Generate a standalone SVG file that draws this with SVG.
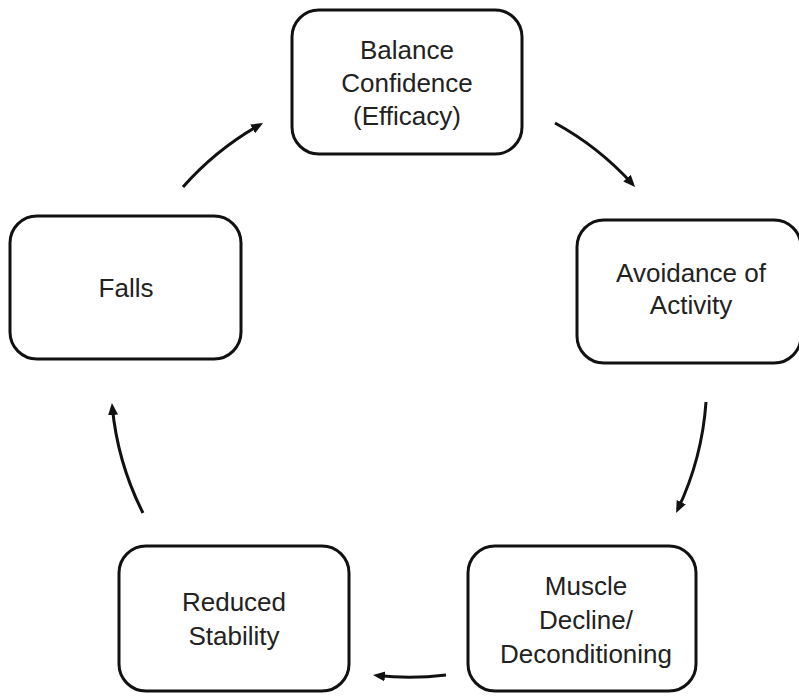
<svg xmlns="http://www.w3.org/2000/svg" width="799" height="698" viewBox="0 0 799 698">
  <style>
    .box { fill: #ffffff; stroke: #111111; stroke-width: 3; }
    .lbl { font-family: "Liberation Sans", Arial, sans-serif; font-size: 26px; fill: #222222; text-anchor: middle; }
    .arc { fill: none; stroke: #111111; stroke-width: 3; }
  </style>
  <defs>
    <marker id="ah" markerUnits="userSpaceOnUse" markerWidth="13" markerHeight="11" refX="8" refY="5" orient="auto">
      <path d="M0,0 L12,5 L0,10 z" fill="#111111"/>
    </marker>
  </defs>
  <rect width="799" height="698" fill="#ffffff"/>

  <g id="node-balance">
    <rect class="box" x="292" y="10" width="230" height="144" rx="27"/>
    <text class="lbl" x="407" y="59">Balance</text>
    <text class="lbl" x="407" y="92">Confidence</text>
    <text class="lbl" x="407" y="125">(Efficacy)</text>
  </g>
  <g id="node-avoidance">
    <rect class="box" x="577" y="220" width="224" height="143" rx="27"/>
    <text class="lbl" x="691" y="282">Avoidance of</text>
    <text class="lbl" x="691" y="314">Activity</text>
  </g>
  <g id="node-muscle">
    <rect class="box" x="468" y="546" width="228" height="145" rx="27"/>
    <text class="lbl" x="586" y="595">Muscle</text>
    <text class="lbl" x="586" y="629">Decline/</text>
    <text class="lbl" x="586" y="663">Deconditioning</text>
  </g>
  <g id="node-reduced">
    <rect class="box" x="119" y="546" width="230" height="145" rx="27"/>
    <text class="lbl" x="234" y="611">Reduced</text>
    <text class="lbl" x="234" y="645">Stability</text>
  </g>
  <g id="node-falls">
    <rect class="box" x="10" y="216" width="231" height="143" rx="27"/>
    <text class="lbl" x="126" y="297">Falls</text>
  </g>

  <g id="connectors">
    <path class="arc" marker-end="url(#ah)" d="M183,187 A297,297 0 0 1 259.6,125"/>
    <path class="arc" marker-end="url(#ah)" d="M555,123 A297,297 0 0 1 632.4,184"/>
    <path class="arc" marker-end="url(#ah)" d="M706,402 A297,297 0 0 1 677.8,509.4"/>
    <path class="arc" marker-end="url(#ah)" d="M446,675 A297,297 0 0 1 377,675.5"/>
    <path class="arc" marker-end="url(#ah)" d="M143,513 A297,297 0 0 1 112.3,407"/>
  </g>
</svg>
